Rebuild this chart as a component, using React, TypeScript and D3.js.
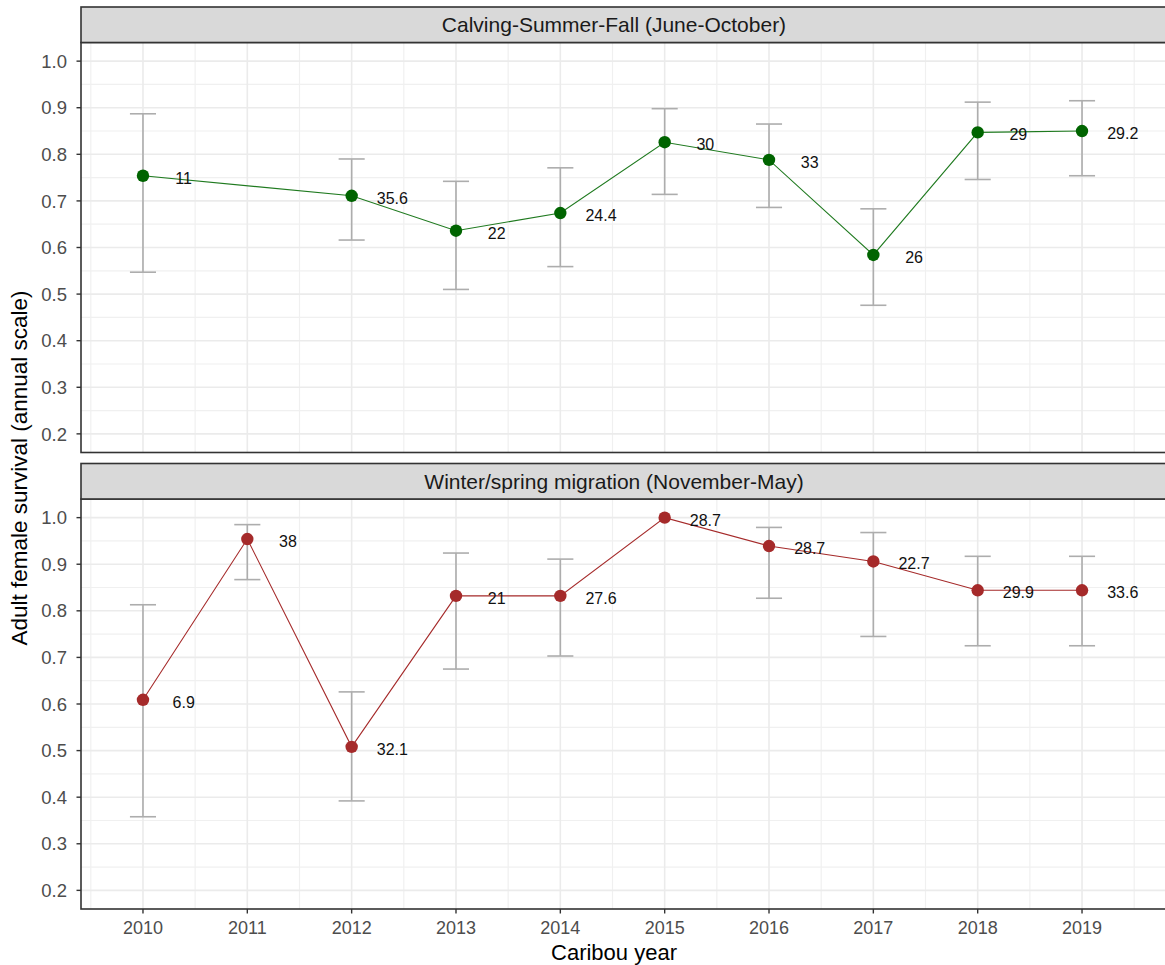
import React, { useRef, useEffect } from "react";
import * as d3 from "d3";

// caribou year on the x axis
const years = [2010, 2011, 2012, 2013, 2014, 2015, 2016, 2017, 2018, 2019];

// Calving-Summer-Fall (June-October)
const summerSurv = [0.754, null, 0.711, 0.636, 0.674, 0.826, 0.788, 0.584, 0.847, 0.85];
const summerLower = [0.547, null, 0.616, 0.51, 0.559, 0.714, 0.686, 0.476, 0.746, 0.754];
const summerUpper = [0.887, null, 0.79, 0.742, 0.771, 0.898, 0.865, 0.683, 0.912, 0.915];
const summerLabels = ["11", "", "35.6", "22", "24.4", "30", "33", "26", "29", "29.2"];

// Winter/spring migration (November-May)
const winterSurv = [0.609, 0.954, 0.508, 0.832, 0.832, 1.0, 0.939, 0.906, 0.844, 0.844];
const winterLower = [0.358, 0.867, 0.392, 0.675, 0.703, null, 0.827, 0.745, 0.725, 0.725];
const winterUpper = [0.813, 0.985, 0.626, 0.924, 0.911, null, 0.979, 0.968, 0.917, 0.917];
const winterLabels = ["6.9", "38", "32.1", "21", "27.6", "28.7", "28.7", "22.7", "29.9", "33.6"];

const yTicks = [0.2, 0.3, 0.4, 0.5, 0.6, 0.7, 0.8, 0.9, 1.0];

interface Row {
  year: number;
  est: number | null;
  lo: number | null;
  hi: number | null;
  label: string;
}

const makeRows = (
  est: (number | null)[],
  lo: (number | null)[],
  hi: (number | null)[],
  labels: string[],
): Row[] =>
  years.map((year, i) => ({ year, est: est[i], lo: lo[i], hi: hi[i], label: labels[i] }));

const panels = [
  {
    title: "Calving-Summer-Fall (June-October)",
    rows: makeRows(summerSurv, summerLower, summerUpper, summerLabels),
    color: "#006400",
    lineColor: "#1f7a1f",
  },
  {
    title: "Winter/spring migration (November-May)",
    rows: makeRows(winterSurv, winterLower, winterUpper, winterLabels),
    color: "#A52A2A",
    lineColor: "#A52A2A",
  },
];

const App: React.FC = () => {
  const svgRef = useRef<SVGSVGElement>(null);

  useEffect(() => {
    if (!svgRef.current) return;
    const width = 1165;
    const height = 965;
    const svg = d3.select(svgRef.current);
    svg.selectAll("*").remove();
    svg.attr("width", width).attr("height", height).style("font-family", "Arial, 'Liberation Sans', sans-serif");

    const left = 81;
    const right = 1168;
    const titleX = 614;
    const stripH = 35.5;
    const panelTops = [7, 463.5];
    const panelH = 410;

    const x = d3.scaleLinear().domain([2009.406, 2019.824]).range([left, right]);
    const minorX = d3.range(2009.5, 2020, 1);
    const minorY = d3.range(0.25, 1.0, 0.1);

    panels.forEach((p, pi) => {
      const stripTop = panelTops[pi];
      const top = stripTop + stripH;
      const bottom = top + panelH;
      const y = d3.scaleLinear().domain([0.16, 1.04]).range([bottom, top]);
      const g = svg.append("g");

      // panel background + grid
      g.append("rect").attr("x", left).attr("y", top).attr("width", right - left).attr("height", panelH).attr("fill", "white");
      g.selectAll(".minx")
        .data(minorX)
        .join("line")
        .attr("x1", (d) => x(d)).attr("x2", (d) => x(d))
        .attr("y1", top).attr("y2", bottom)
        .attr("stroke", "#F0F0F0").attr("stroke-width", 1.2);
      g.selectAll(".miny")
        .data(minorY)
        .join("line")
        .attr("x1", left).attr("x2", right)
        .attr("y1", (d) => y(d)).attr("y2", (d) => y(d))
        .attr("stroke", "#F0F0F0").attr("stroke-width", 1.2);
      g.selectAll(".majx")
        .data(years)
        .join("line")
        .attr("x1", (d) => x(d)).attr("x2", (d) => x(d))
        .attr("y1", top).attr("y2", bottom)
        .attr("stroke", "#EBEBEB").attr("stroke-width", 1.6);
      g.selectAll(".majy")
        .data(yTicks)
        .join("line")
        .attr("x1", left).attr("x2", right)
        .attr("y1", (d) => y(d)).attr("y2", (d) => y(d))
        .attr("stroke", "#EBEBEB").attr("stroke-width", 1.6);

      // error bars
      const bars = p.rows.filter((r) => r.lo != null && r.hi != null);
      const capHalf = x(2010.125) - x(2010);
      const eb = g.append("g").attr("stroke", "#ADADAD").attr("stroke-width", 1.6).attr("fill", "none");
      eb.selectAll(".v").data(bars).join("line")
        .attr("x1", (d) => x(d.year)).attr("x2", (d) => x(d.year))
        .attr("y1", (d) => y(d.lo!)).attr("y2", (d) => y(d.hi!));
      eb.selectAll(".lo").data(bars).join("line")
        .attr("x1", (d) => x(d.year) - capHalf).attr("x2", (d) => x(d.year) + capHalf)
        .attr("y1", (d) => y(d.lo!)).attr("y2", (d) => y(d.lo!));
      eb.selectAll(".hi").data(bars).join("line")
        .attr("x1", (d) => x(d.year) - capHalf).attr("x2", (d) => x(d.year) + capHalf)
        .attr("y1", (d) => y(d.hi!)).attr("y2", (d) => y(d.hi!));

      // line and points
      const pts = p.rows.filter((r) => r.est != null);
      const line = d3.line<Row>().x((d) => x(d.year)).y((d) => y(d.est!));
      g.append("path").datum(pts).attr("d", line).attr("fill", "none").attr("stroke", p.lineColor).attr("stroke-width", 1.1);
      g.selectAll(".pt").data(pts).join("circle")
        .attr("cx", (d) => x(d.year)).attr("cy", (d) => y(d.est!))
        .attr("r", 6.2).attr("fill", p.color);

      // sample size labels
      g.selectAll(".lab").data(pts).join("text")
        .attr("x", (d) => x(d.year + 0.39)).attr("y", (d) => y(d.est!))
        .attr("dy", "0.5em")
        .attr("text-anchor", "middle")
        .attr("font-size", 16)
        .attr("fill", "#111111")
        .text((d) => d.label);

      // panel border
      g.append("rect").attr("x", left).attr("y", top).attr("width", right - left).attr("height", panelH)
        .attr("fill", "none").attr("stroke", "#333333").attr("stroke-width", 1.6);

      // strip
      g.append("rect").attr("x", left).attr("y", stripTop).attr("width", right - left).attr("height", stripH)
        .attr("fill", "#D9D9D9").attr("stroke", "#333333").attr("stroke-width", 1.6);
      g.append("text")
        .attr("x", titleX).attr("y", stripTop + stripH / 2)
        .attr("dy", "0.36em").attr("text-anchor", "middle")
        .attr("font-size", 21).attr("fill", "#1A1A1A")
        .text(p.title);

      // y axis
      const ya = g.append("g").selectAll("g").data(yTicks).join("g");
      ya.append("line").attr("x1", left - 4.5).attr("x2", left).attr("y1", (d) => y(d)).attr("y2", (d) => y(d))
        .attr("stroke", "#333333").attr("stroke-width", 1.4);
      ya.append("text").attr("x", left - 14).attr("y", (d) => y(d)).attr("dy", "0.36em")
        .attr("text-anchor", "end").attr("font-size", 18.5).attr("fill", "#4D4D4D")
        .text((d) => d3.format(".1f")(d));

      // x axis only on the bottom panel
      if (pi === panels.length - 1) {
        const xa = g.append("g").selectAll("g").data(years).join("g");
        xa.append("line").attr("x1", (d) => x(d)).attr("x2", (d) => x(d)).attr("y1", bottom).attr("y2", bottom + 4.5)
          .attr("stroke", "#333333").attr("stroke-width", 1.4);
        xa.append("text").attr("x", (d) => x(d)).attr("y", bottom + 25)
          .attr("text-anchor", "middle").attr("font-size", 18).attr("fill", "#4D4D4D")
          .text((d) => String(d));
      }
    });

    svg.append("text")
      .attr("x", titleX).attr("y", 960)
      .attr("text-anchor", "middle").attr("font-size", 22).attr("fill", "black")
      .text("Caribou year");
    svg.append("text")
      .attr("transform", `translate(27,468) rotate(-90)`)
      .attr("text-anchor", "middle").attr("font-size", 22.5).attr("fill", "black")
      .text("Adult female survival (annual scale)");
  }, []);

  return <svg ref={svgRef} style={{ position: "absolute", left: 0, top: 0 }} />;
};

export default App;
